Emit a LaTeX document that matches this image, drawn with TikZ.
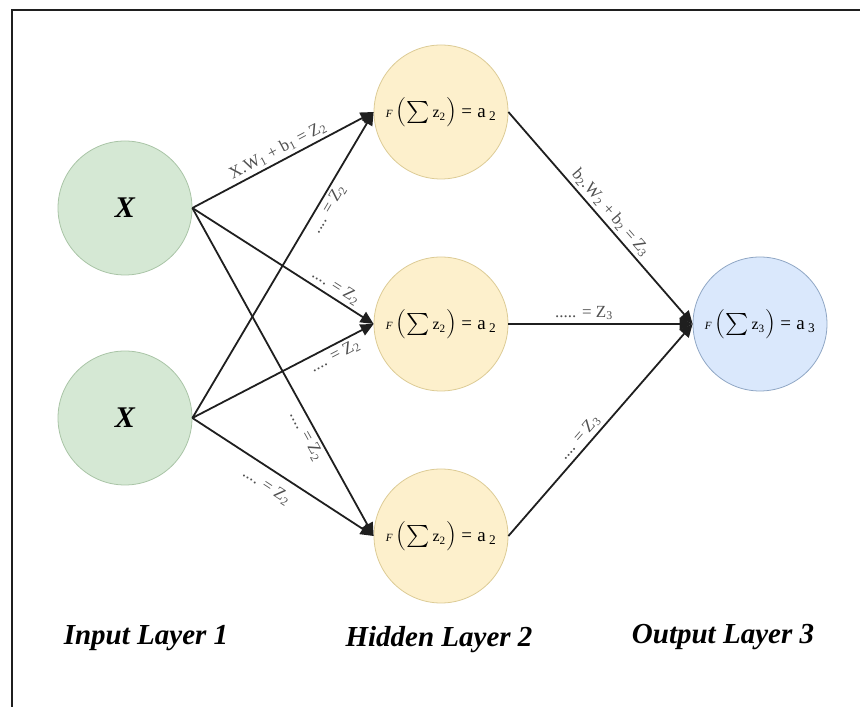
\documentclass[tikz,border=0pt]{standalone}
\usepackage{fontspec}
\setmainfont{Liberation Serif}
\usetikzlibrary{arrows.meta}
\definecolor{ingreen}{HTML}{D5E8D4}
\definecolor{ingreenline}{HTML}{A9C4A6}
\definecolor{hidyellow}{HTML}{FDF0CC}
\definecolor{hidyellowline}{HTML}{DCCB95}
\definecolor{outblue}{HTML}{DAE8FC}
\definecolor{outblueline}{HTML}{8FA6C4}
\definecolor{lblgray}{HTML}{505050}
\newcommand\actfn[2]{{\fontsize{19}{21}\selectfont
  {\fontsize{11}{12}\selectfont\textit{F}}\,%
  \raisebox{-0.2ex}{\scalebox{1.7}{$\bigl($}}%
  \raisebox{-0.55ex}{\scalebox{2.2}{$\sum$}}\,%
  {\fontsize{16}{17}\selectfont z\textsubscript{#1}}%
  \raisebox{-0.2ex}{\scalebox{1.7}{$\bigr)$}}\;=\;a\,\textsubscript{#2}}}
\begin{document}
\begin{tikzpicture}[x=1pt,y=1pt,
  neuron/.style={circle, minimum size=134pt, inner sep=0pt, line width=0.8pt},
  inpnode/.style={neuron, fill=ingreen, draw=ingreenline, font=\fontsize{30}{32}\selectfont\bfseries\itshape},
  hidnode/.style={neuron, fill=hidyellow, draw=hidyellowline},
  outnode/.style={neuron, fill=outblue, draw=outblueline},
  conn/.style={line width=1.8pt, draw=black!88, -{Triangle[length=13pt,width=12pt]}},
  lbl/.style={sloped, text=lblgray, font=\fontsize{17}{19}\selectfont, inner sep=3pt},
  layer/.style={font=\fontsize{29}{32}\selectfont\bfseries\itshape},
  frameline/.style={line width=2pt, draw=black!88}]
\useasboundingbox (0,0) rectangle (860,707);
% frame (top and left edges)
\coordinate (fb) at (12,0);
\coordinate (fc) at (12,697);
\coordinate (fr) at (860,697);
\draw[frameline] (fb) -- (fc) -- (fr);
% nodes
\node[inpnode] (x1) at (125,499) {X};
\node[inpnode] (x2) at (125,289) {X};
\node[hidnode] (h1) at (441,595) {\actfn{2}{2}};
\node[hidnode] (h2) at (441,383) {\actfn{2}{2}};
\node[hidnode] (h3) at (441,171) {\actfn{2}{2}};
\node[outnode] (o) at (760,383) {\actfn{3}{3}};
% input -> hidden
\draw[conn] (x1.east) -- node[lbl, pos=0.5, above] {X.W\textsubscript{1} + b\textsubscript{1} = Z\textsubscript{2}} (h1.west);
\draw[conn] (x2.east) -- node[lbl, pos=0.70, below] {.... = Z\textsubscript{2}} (h1.west);
\draw[conn] (x1.east) -- node[lbl, pos=0.76, above] {.... = Z\textsubscript{2}} (h2.west);
\draw[conn] (x2.east) -- node[lbl, pos=0.76, below] {.... = Z\textsubscript{2}} (h2.west);
\draw[conn] (x1.east) -- node[lbl, pos=0.68, below] {.... = Z\textsubscript{2}} (h3.west);
\draw[conn] (x2.east) -- node[lbl, pos=0.46, below, yshift=-6pt] {.... = Z\textsubscript{2}} (h3.west);
% hidden -> output
\draw[conn] (h1.east) -- node[lbl, pos=0.51, above] {b\textsubscript{2}.W\textsubscript{2} + b\textsubscript{2} = Z\textsubscript{3}} (o.west);
\draw[conn] (h2.east) -- node[lbl, pos=0.41, above] {..... = Z\textsubscript{3}} (o.west);
\draw[conn] (h3.east) -- node[lbl, pos=0.43, above] {.... = Z\textsubscript{3}} (o.west);
% layer titles
\node[layer] (l1) at (146,69) {Input Layer 1};
\node[layer] (l2) at (439,67) {Hidden Layer 2};
\node[layer] (l3) at (723,70) {Output Layer 3};
\end{tikzpicture}
\end{document}
